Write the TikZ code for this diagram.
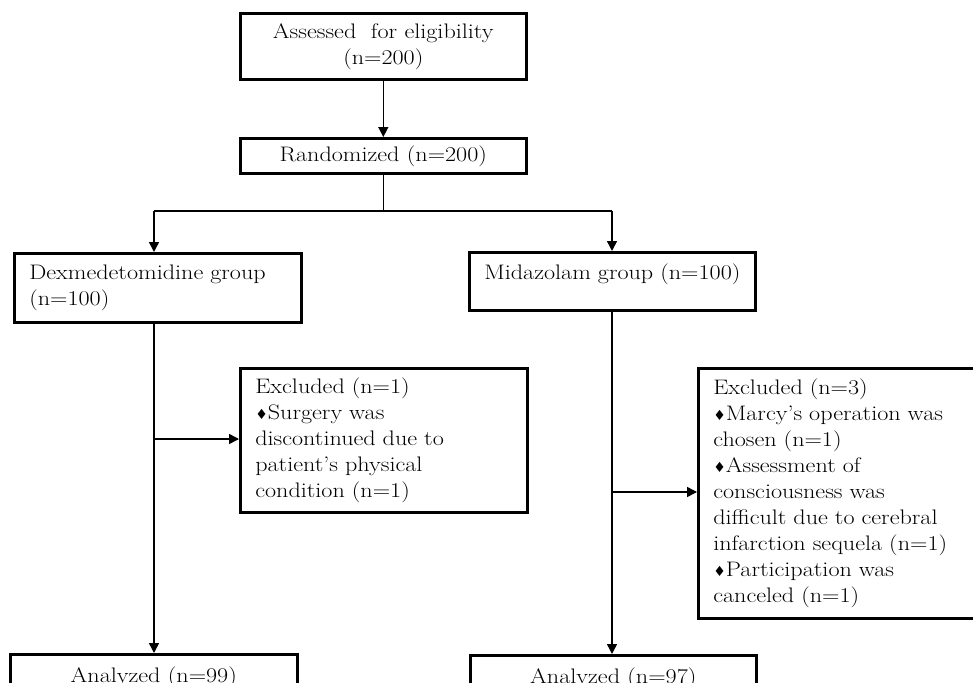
\documentclass[tikz,border=0pt]{standalone}
\usepackage{fontspec}
\setmainfont{Latin Modern Roman}[FakeStretch=1.15]
\newfontfamily\symfont{DejaVu Sans}
\usetikzlibrary{arrows.meta}
\newcommand{\dm}{{\symfont\fontsize{14}{26}\selectfont ♦}}
\tikzset{
  box/.style={draw, line width=2.6pt, anchor=north west, inner sep=0pt,
    font=\fontsize{21}{26}\selectfont},
  lbox/.style={box, align=left, inner xsep=15pt},
  cbox/.style={box, align=center},
  conn/.style={line width=1.5pt},
  arr/.style={conn, -{Triangle[length=10pt,width=10pt]}},
}
\begin{document}
\begin{tikzpicture}[x=1pt,y=-1pt]
\useasboundingbox (0,0) rectangle (973,682);
\clip (0,0) rectangle (973,682);
\node[cbox, minimum width=286pt, minimum height=66pt] (top) at (239,12)
  {Assessed\ \ for eligibility\\(n=200)};
\node[cbox, minimum width=286pt, minimum height=35pt] (rand) at (239,137)
  {Randomized (n=200)};
\node[lbox, minimum width=287pt, minimum height=69pt, text width=257pt] (dex) at (13,252)
  {Dexmedetomidine group\\(n=100)};
\node[lbox, minimum width=286pt, minimum height=58pt, text width=256pt] (mid) at (468,251)
  {\makebox[0pt][l]{Midazolam group (n=100)}\\[-6pt]\mbox{}};
\node[lbox, minimum width=287pt, minimum height=144pt, text width=257pt] (exl) at (239,367)
  {Excluded (n=1)\\\dm Surgery was\\discontinued due to\\patient's physical\\condition (n=1)};
\node[lbox, minimum width=300pt, minimum height=250pt, text width=270pt] (exr) at (697,367)
  {Excluded (n=3)\\\dm Marcy's operation was\\chosen (n=1)\\\dm Assessment of\\consciousness was\\difficult due to cerebral\\infarction sequela (n=1)\\\dm Participation was\\canceled (n=1)};
\node[cbox, minimum width=287pt, minimum height=46pt] (anl) at (9,653)
  {Analyzed (n=99)};
\node[cbox, minimum width=286pt, minimum height=46pt] (anr) at (469,654)
  {Analyzed (n=97)};
\coordinate (sl) at (154,211);
\coordinate (sr) at (612,211);
\coordinate (bl) at (154,439);
\coordinate (br) at (612,492);
\draw[arr] (top.south) -- (rand.north);
\draw[conn] (rand.south) -- (rand.south |- sl);
\draw[conn] (sl) -- (sr);
\draw[arr] (sl) -- (sl |- dex.north);
\draw[arr] (sr) -- (sr |- mid.north);
\draw[arr] (sl |- dex.south) -- (sl |- anl.north);
\draw[arr] (bl) -- (bl -| exl.west);
\draw[arr] (sr |- mid.south) -- (sr |- anr.north);
\draw[arr] (br) -- (br -| exr.west);
\end{tikzpicture}
\end{document}
